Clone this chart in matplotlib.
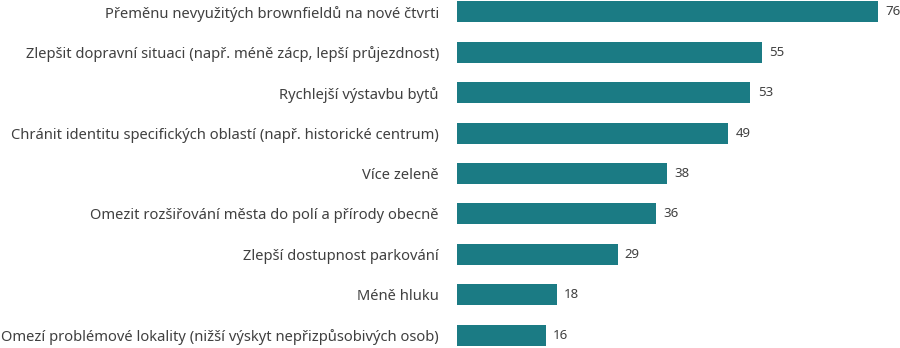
import matplotlib.pyplot as plt

categories = [
    "Přeměnu nevyužitých brownfieldů na nové čtvrti",
    "Zlepšit dopravní situaci (např. méně zácp, lepší průjezdnost)",
    "Rychlejší výstavbu bytů",
    "Chránit identitu specifických oblastí (např. historické centrum)",
    "Více zeleně",
    "Omezit rozšiřování města do polí a přírody obecně",
    "Zlepší dostupnost parkování",
    "Méně hluku",
    "Omezí problémové lokality (nižší výskyt nepřizpůsobivých osob)",
]
values = [76, 55, 53, 49, 38, 36, 29, 18, 16]

bar_color = "#1b7b84"
text_color = "#404040"

plt.rcParams["font.family"] = ["Noto Sans", "DejaVu Sans"]

fig = plt.figure(figsize=(9, 3.48), dpi=100)
ax = fig.add_axes([457 / 900, 0, 443 / 900, 1])

pos = list(range(len(categories)))
ax.barh(pos, values, height=0.52, color=bar_color)

# hodnoty za koncem sloupců
for y, v in zip(pos, values):
    ax.text(v + 1.3, y, str(v), va="center", ha="left", fontsize=9.5, color=text_color)

ax.set_yticks(pos)
ax.set_yticklabels(categories, fontsize=10.6, color=text_color)
ax.tick_params(axis="y", length=0, pad=13)
ax.set_xticks([])
ax.set_xlim(0, 80)
ax.set_ylim(8.32, -0.297)
for s in ax.spines.values():
    s.set_visible(False)

fig.savefig("out.png", dpi=100)
